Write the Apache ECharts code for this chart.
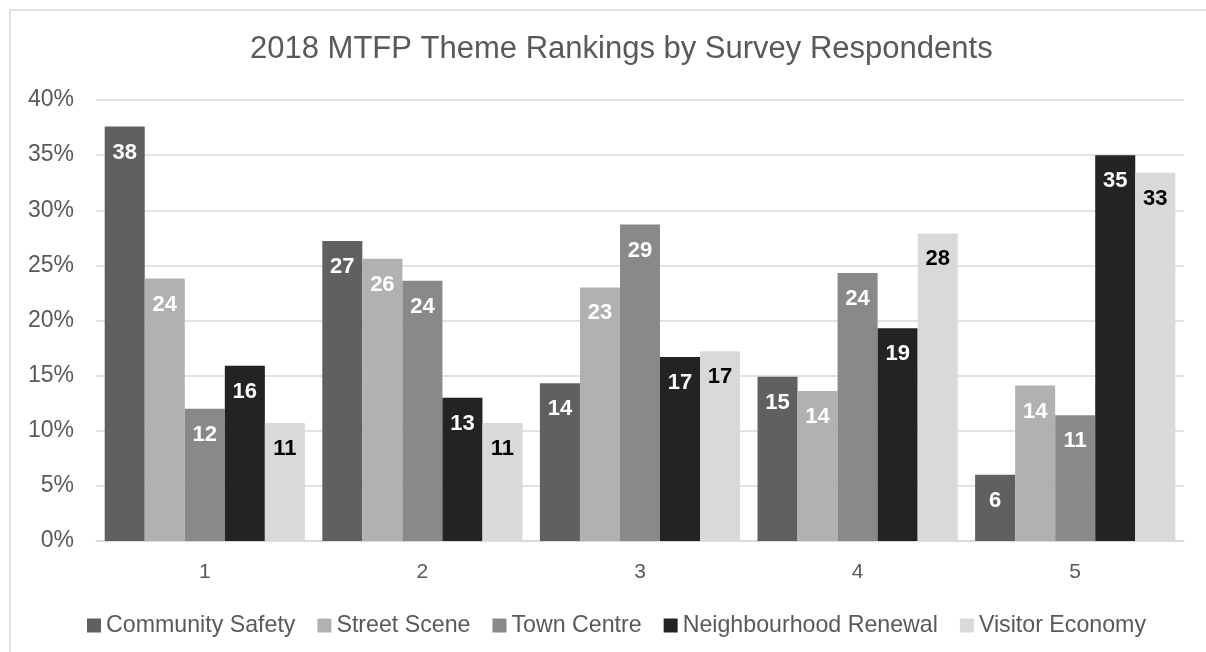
<!DOCTYPE html>
<html>
<head>
<meta charset="utf-8">
<script src="https://cdn.jsdelivr.net/npm/echarts@6/dist/echarts.min.js"></script>
<style>html,body{margin:0;padding:0;background:#fff}#c{width:1206px;height:652px}</style>
</head>
<body>
<div id="c"></div>
<script>
var categories = ['1', '2', '3', '4', '5'];
var communitySafety = [37.6, 27.2, 14.3, 14.9, 6.0];
var streetScene = [23.8, 25.6, 23.0, 13.6, 14.1];
var townCentre = [12.0, 23.6, 28.7, 24.3, 11.4];
var neighbourhoodRenewal = [15.9, 13.0, 16.7, 19.3, 35.0];
var visitorEconomy = [10.7, 10.7, 17.2, 27.9, 33.4];
var yTicks = [0, 5, 10, 15, 20, 25, 30, 35, 40];

var FONT = 'Liberation Sans, Arial, sans-serif';
var TXT = '#595959';

function mk(name, data, color, labelColor) {
  return {
    name: name, type: 'bar', data: data, barGap: '0%', barCategoryGap: '8%',
    itemStyle: { color: color },
    label: {
      show: true, position: 'insideTop', distance: 15,
      color: labelColor, fontSize: 22, fontWeight: 'bold', fontFamily: FONT,
      formatter: function (p) { return Math.round(p.value); }
    }
  };
}

var chart = echarts.init(document.getElementById('c'));
chart.setOption({
  animation: false,
  backgroundColor: '#fff',
  graphic: [{
    type: 'rect', shape: { x: 10, y: 10, width: 1400, height: 900 },
    style: { fill: 'none', stroke: '#d9d9d9', lineWidth: 1.5 }, silent: true, z: -1
  }],
  title: {
    text: '2018 MTFP Theme Rankings by Survey Respondents',
    left: 250, top: 34, padding: 0,
    textStyle: { color: TXT, fontSize: 31, fontWeight: 'normal', fontFamily: FONT }
  },
  legend: {
    left: 87, top: 614, itemWidth: 14, itemHeight: 14, itemGap: 22, padding: 0,
    icon: 'rect',
    textStyle: { color: TXT, fontSize: 23.2, fontFamily: FONT },
    data: ['Community Safety', 'Street Scene', 'Town Centre', 'Neighbourhood Renewal', 'Visitor Economy']
  },
  grid: { left: 96, right: 22, top: 100, bottom: 111, containLabel: false },
  xAxis: {
    type: 'category', data: categories,
    axisLine: { lineStyle: { color: '#d9d9d9', width: 1.5 } },
    axisTick: { show: false },
    axisLabel: { color: TXT, fontSize: 21, fontFamily: FONT, margin: 21 }
  },
  yAxis: {
    type: 'value', min: yTicks[0], max: yTicks[yTicks.length - 1], interval: 5,
    axisLine: { show: false }, axisTick: { show: false },
    splitLine: { lineStyle: { color: '#d9d9d9', width: 1.5 } },
    axisLabel: { color: TXT, fontSize: 23, fontFamily: FONT, margin: 22, formatter: '{value}%' }
  },
  series: [
    mk('Community Safety', communitySafety, '#606060', '#ffffff'),
    mk('Street Scene', streetScene, '#b1b1b1', '#ffffff'),
    mk('Town Centre', townCentre, '#898989', '#ffffff'),
    mk('Neighbourhood Renewal', neighbourhoodRenewal, '#232323', '#ffffff'),
    mk('Visitor Economy', visitorEconomy, '#d9d9d9', '#000000')
  ]
});
</script>
</body>
</html>
